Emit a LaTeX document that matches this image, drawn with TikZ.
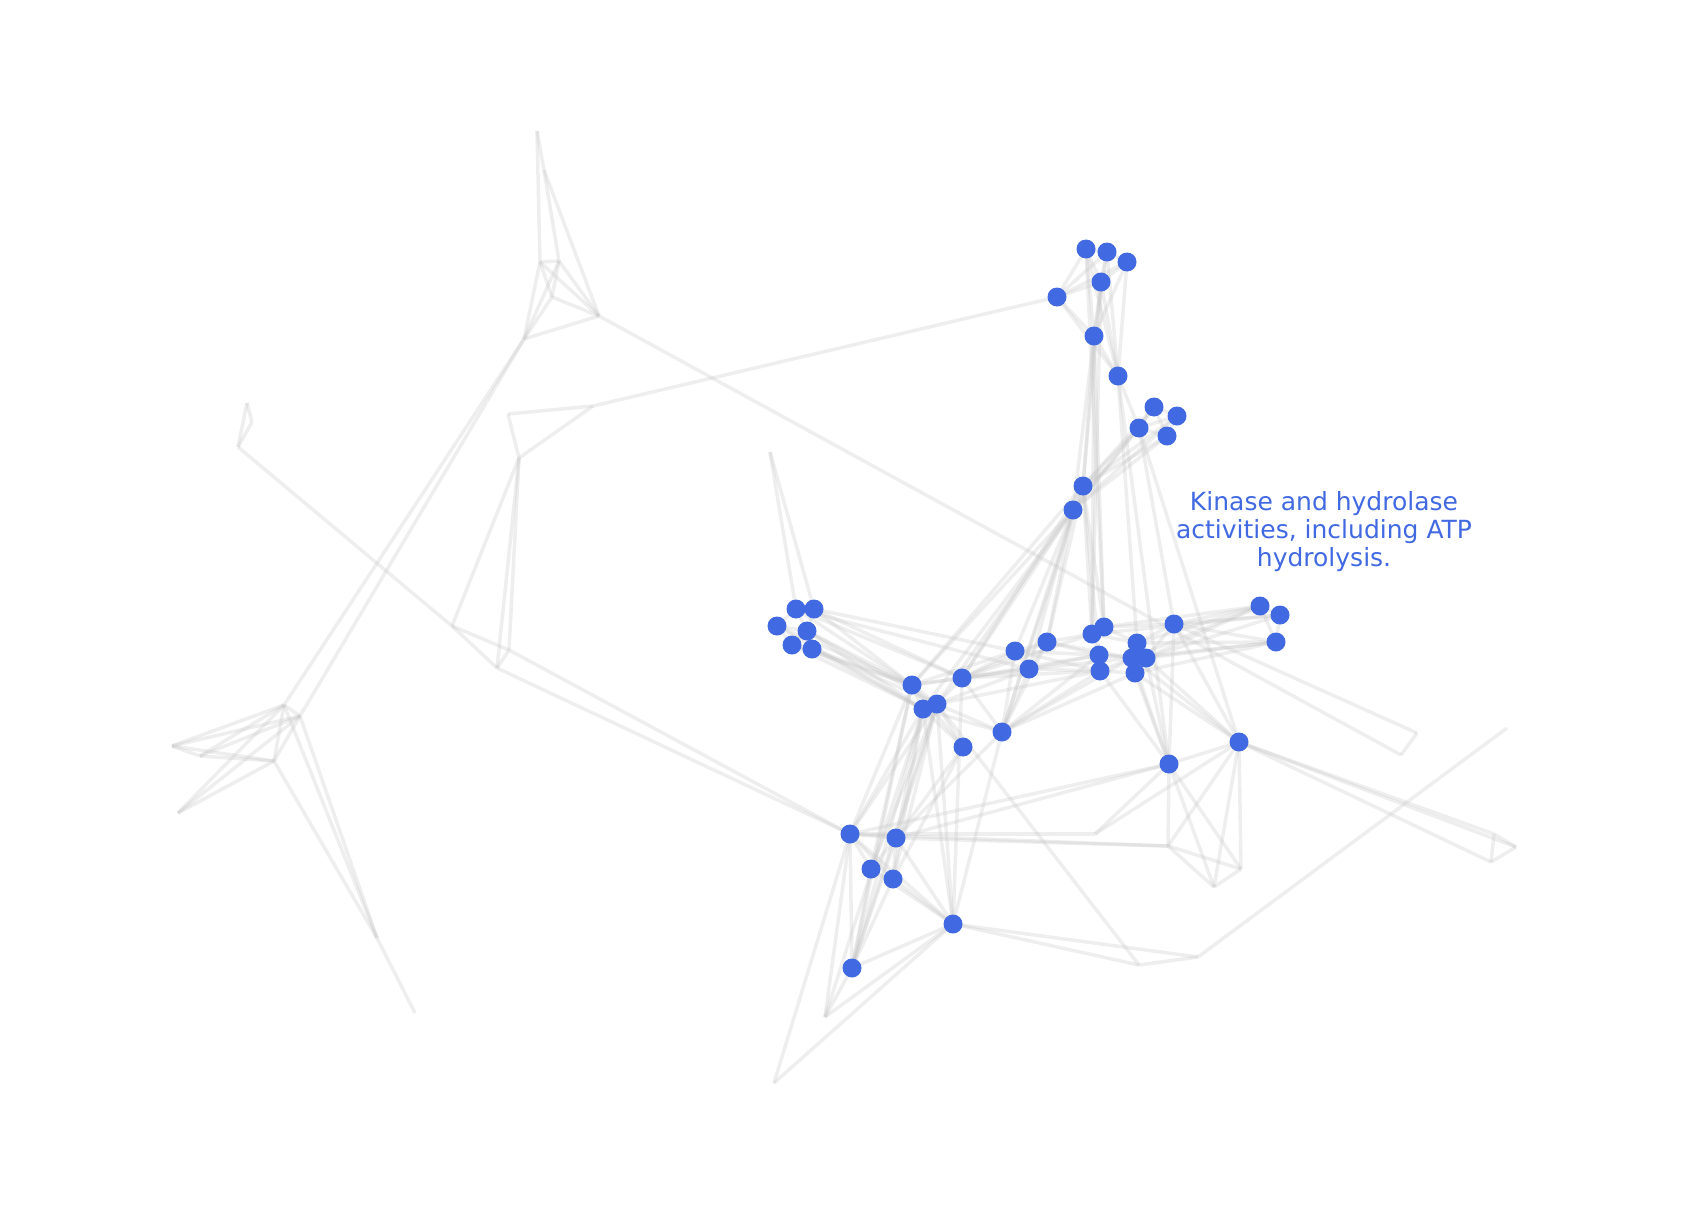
\documentclass[tikz,border=0pt]{standalone}
\usepackage{fontspec}
\setmainfont{DejaVu Sans}
\definecolor{hub}{RGB}{65,105,225}
\definecolor{link}{RGB}{195,195,195}

\begin{document}
\begin{tikzpicture}[x=1pt,y=-1pt,edge/.style={draw=link,line width=3.5pt,opacity=0.28},
 dot/.style={fill=hub}]
\useasboundingbox (0,0) rectangle (1687,1215);
\coordinate (p1) at (537,131);\coordinate (p2) at (544,170);\coordinate (p3) at (540,262);
\coordinate (p4) at (559,261);\coordinate (p5) at (552,297);\coordinate (p6) at (599,316);
\coordinate (p7) at (524,339);
\coordinate (s1) at (284,705);\coordinate (s2) at (300,716);\coordinate (s3) at (172,746);
\coordinate (s4) at (200,756);\coordinate (s5) at (274,761);\coordinate (s6) at (178,813);
\coordinate (s7) at (377,938);\coordinate (s8) at (415,1013);
\coordinate (q1) at (247,403);\coordinate (q2) at (252,422);\coordinate (q3) at (238,447);
\coordinate (q4) at (452,626);\coordinate (q5) at (509,650);\coordinate (q6) at (497,668);
\coordinate (q7) at (519,458);\coordinate (q8) at (508,414);\coordinate (q9) at (593,406);
\coordinate (k) at (770,452);
\coordinate (w1) at (1417,733);\coordinate (w2) at (1401,755);\coordinate (w3) at (1494,834);
\coordinate (w4) at (1516,847);\coordinate (w5) at (1491,862);\coordinate (w6) at (1168,846);
\coordinate (w7) at (1214,887);\coordinate (w8) at (1241,869);\coordinate (w9) at (1095,834);
\coordinate (w10) at (1507,728);\coordinate (w11) at (1198,957);\coordinate (w12) at (1139,965);
\coordinate (w13) at (825,1017);\coordinate (w14) at (774,1083);
\coordinate (t1) at (1086,249);\coordinate (t2) at (1107,252);\coordinate (t3) at (1127,262);
\coordinate (t4) at (1101,282);\coordinate (t5) at (1057,297);\coordinate (t6) at (1094,336);
\coordinate (t7) at (1118,376);
\coordinate (u1) at (1154,407);\coordinate (u2) at (1177,416);\coordinate (u3) at (1139,428);
\coordinate (u4) at (1167,436);\coordinate (v1) at (1083,486);\coordinate (v2) at (1073,510);
\coordinate (l1) at (796,609);\coordinate (l2) at (814,609);\coordinate (l3) at (777,626);
\coordinate (l4) at (807,631);\coordinate (l5) at (792,645);\coordinate (l6) at (812,649);
\coordinate (m1) at (912,685);\coordinate (m2) at (962,678);\coordinate (m3) at (923,709);
\coordinate (m4) at (937,704);\coordinate (m5) at (963,747);\coordinate (m6) at (1002,732);
\coordinate (c1) at (1015,651);\coordinate (c2) at (1047,642);\coordinate (c3) at (1029,669);
\coordinate (c4) at (1092,634);\coordinate (c5) at (1104,627);\coordinate (c6) at (1099,655);
\coordinate (c7) at (1100,671);\coordinate (c8) at (1137,643);\coordinate (c9) at (1132,658);
\coordinate (c10) at (1146,658);\coordinate (c11) at (1135,673);\coordinate (c12) at (1174,624);
\coordinate (r1) at (1260,606);\coordinate (r2) at (1280,615);\coordinate (r3) at (1276,642);
\coordinate (r4) at (1239,742);\coordinate (r5) at (1169,764);
\coordinate (b1) at (850,834);\coordinate (b2) at (896,838);\coordinate (b3) at (871,869);
\coordinate (b4) at (893,879);\coordinate (b5) at (953,924);\coordinate (b6) at (852,968);
\foreach \a/\b in {p1/p2,p1/p3,p2/p4,p2/p6,p3/p4,p3/p5,p3/p6,p3/p7,p4/p5,p4/p7,p4/p6,p5/p6,p5/p7,p7/p6,
 s1/s2,s1/s3,s1/s4,s1/s5,s1/s6,s2/s3,s2/s4,s2/s5,s2/s6,s3/s4,s4/s5,s3/s5,s5/s6,s1/s7,s2/s7,s5/s7,s7/s8,p7/s1,p7/s2,
 q1/q2,q2/q3,q1/q3,q3/q4,q4/q5,q4/q6,q5/q6,q7/q4,q7/q5,q7/q6,q8/q7,q8/q9,q9/q7,q9/t5,q5/b1,q6/b1,
 p6/w2,c12/w1,w1/w2,k/l1,k/l2}
 \draw[edge] (\a)--(\b);
\foreach \a/\b in {t1/t2,t2/t3,t1/t4,t2/t4,t3/t4,t5/t1,t5/t2,t5/t4,t5/t3,t1/t6,t2/t6,t3/t6,t4/t6,t5/t6,t6/t7,
 t5/t7,t3/t7,t4/t7,t1/t7,t2/t7,t6/v1,t6/v2,t4/v1,t6/c4,t6/c5,t4/c4,t1/c5,t7/c8,t7/r5,t7/u3,
 u1/u2,u1/u3,u2/u4,u3/u4,u1/u4,u2/u3,u1/v1,u2/v1,u3/v1,u4/v1,u3/v2,u4/v2,u1/v2,u2/v2,u3/r4,u3/c12,
 v1/v2,v1/c4,v1/c5,v1/c2,v2/c1,v2/c3,v1/c6,v2/m1,v2/m2,v2/m3,v2/m4,v1/m1,v1/m2,v2/m6,v1/m6,v2/c2}
 \draw[edge] (\a)--(\b);
\foreach \a/\b in {l1/l2,l1/l3,l1/l4,l2/l4,l3/l5,l4/l6,l5/l6,l4/l5,l3/l4,
 l1/m1,l2/m1,l3/m1,l4/m1,l5/m1,l6/m1,l2/m2,l1/m2,l4/m3,l6/m3,l6/m4,l5/m3,l3/m3,l2/c1,l1/c3,l4/m4,
 m1/m2,m1/m3,m1/m4,m3/m4,m2/m4,m1/m5,m3/m5,m4/m5,m2/m6,m4/m6,m3/m6,
 m2/c1,m2/c2,m2/c3,m2/c4,m2/c6,m2/c7,m1/c1,m1/c3,m4/c3,m4/c7,
 m6/c1,m6/c3,m6/c6,m6/c7,m6/c9,m6/c11,m6/c2,
 m1/b1,m3/b1,m4/b1,m3/b2,m4/b3,m1/b3,m3/b4,m4/b6,m1/b6,m3/b6,m4/b4,m4/b2,m5/b2,m5/b4,m3/w13,
 m4/w12,m2/b5,m4/b5,m3/b5,m6/b5,m6/b2}
 \draw[edge] (\a)--(\b);
\foreach \a/\b in {c1/c2,c1/c3,c2/c3,c2/c4,c3/c6,c3/c7,c4/c5,c4/c6,c6/c7,c5/c8,c6/c9,c7/c11,c8/c9,c9/c10,
 c10/c11,c8/c10,c9/c11,c10/c12,c8/c12,c4/c8,c7/c9,c1/c6,c1/c7,c2/c6,c3/c9,c5/c12,c6/c10,c2/c9,
 c8/r1,c9/r1,c10/r1,c12/r1,c12/r2,c10/r2,c11/r3,c9/r3,c10/r3,c12/r3,c8/r3,c5/r1,c4/r2,r1/r2,r2/r3,r1/r3,
 c12/r4,c12/r5,c10/r4,c11/r4,c9/r4,c10/r5,c11/r5,c9/r5,c7/r5,
 r4/r5,r4/w3,r4/w4,r4/w5,w3/w4,w4/w5,w3/w5,r5/w6,r5/w7,r5/w8,r4/w6,r4/w7,r4/w8,w6/w7,w6/w8,w7/w8,
 r5/w9,r4/w9,b1/w9,b1/r5,b2/r5,b1/w6,b2/w6,
 b1/b2,b1/b3,b1/b4,b1/b6,b2/b3,b2/b4,b2/b6,b3/b6,b4/b6,b4/b5,b2/b5,b3/b5,b1/b5,
 b5/b6,b5/w13,b5/w14,b6/w13,b1/w13,b1/w14,b5/w11,b5/w12,w12/w11,w11/w10}
 \draw[edge] (\a)--(\b);
\foreach \n in {t1,t2,t3,t4,t5,t6,t7,u1,u2,u3,u4,v1,v2,l1,l2,l3,l4,l5,l6,m1,m2,m3,m4,m5,m6,
 c1,c2,c3,c4,c5,c6,c7,c8,c9,c10,c11,c12,r1,r2,r3,r4,r5,b1,b2,b3,b4,b5,b6}
 \fill[dot] (\n) circle(9.5pt);
\node[font=\fontsize{25}{28}\selectfont,text=hub,align=center,inner sep=0pt] (label) at (1324,532)
 {Kinase and hydrolase\\activities, including ATP\\hydrolysis.};
\end{tikzpicture}
\end{document}
